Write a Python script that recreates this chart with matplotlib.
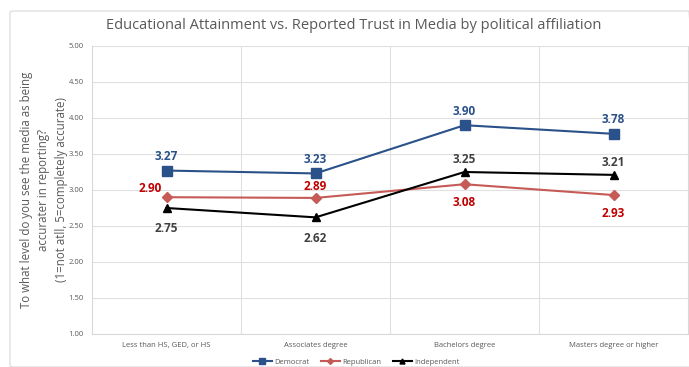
import matplotlib.pyplot as plt
from matplotlib.patches import FancyBboxPatch
import numpy as np

plt.rcParams['font.family'] = ['Open Sans', 'DejaVu Sans']

categories = ['Less than HS, GED, or HS', 'Associates degree',
              'Bachelors degree', 'Masters degree or higher']
democrat = [3.27, 3.23, 3.90, 3.78]
republican = [2.90, 2.89, 3.08, 2.93]
independent = [2.75, 2.62, 3.25, 3.21]

# label placement per point: (dx, dy) in points
dem_off = [(0, 10), (0, 10), (0, 10), (0, 10)]
rep_off = [(-12, 6), (0, 8), (0, -13), (0, -13)]
ind_off = [(0, -15), (0, -15), (0, 9), (0, 9)]

fig = plt.figure(figsize=(6.89, 3.67), dpi=100)
fig.patches.append(FancyBboxPatch((10 / 689, 0.0), 0.99, 0.97,
                                  boxstyle='round,pad=0,rounding_size=0.005',
                                  transform=fig.transFigure, fill=False,
                                  edgecolor='#d9d9d9', linewidth=0.8))
ax = fig.add_axes([92 / 689, 1 - 334 / 367, 596 / 689, (334 - 46) / 367])

x = np.arange(len(categories))
ax.plot(x, democrat, color='#2a5189', marker='s', markersize=7, linewidth=1.5, label='Democrat')
ax.plot(x, republican, color='#c55a57', marker='D', markersize=5, linewidth=1.5, label='Republican')
ax.plot(x, independent, color='black', marker='^', markersize=6, linewidth=1.5, label='Independent')

for i in x:
    ax.annotate(f'{democrat[i]:.2f}', (i, democrat[i]), xytext=dem_off[i], textcoords='offset points',
                ha='center', va='center', color='#2a5189', fontsize=8.5, fontweight='bold')
    ax.annotate(f'{republican[i]:.2f}', (i, republican[i]), xytext=rep_off[i], textcoords='offset points',
                ha='center', va='center', color='#c00000', fontsize=8.5, fontweight='bold')
    ax.annotate(f'{independent[i]:.2f}', (i, independent[i]), xytext=ind_off[i], textcoords='offset points',
                ha='center', va='center', color='#404040', fontsize=8.5, fontweight='bold')

ax.set_xlim(-0.5, 3.5)
ax.set_ylim(1, 5)
ax.set_yticks(np.arange(1, 5.01, 0.5))
ax.set_yticklabels([f'{v:.2f}' for v in np.arange(1, 5.01, 0.5)])
ax.set_xticks(x)
ax.set_xticklabels(categories)
ax.set_xticks([0.5, 1.5, 2.5], minor=True)
ax.grid(True, which='major', axis='y', color='#e0e0e0', linewidth=0.8)
ax.grid(True, which='minor', axis='x', color='#e0e0e0', linewidth=0.8)
ax.tick_params(which='both', length=0, labelsize=5.5, colors='#595959', pad=6)
ax.tick_params(axis='y', pad=6)
ax.spines['top'].set_visible(False)
for s in ['right', 'left', 'bottom']:
    ax.spines[s].set_color('#d9d9d9')
ax.set_axisbelow(True)

ax.set_ylabel('To what level do you see the media as being\naccurater in reporting?\n(1=not atll, 5=completely accurate)',
              fontsize=8.3, color='#595959', linespacing=1.45, va='center')
ax.yaxis.set_label_coords(-0.081, 0.5)
fig.text(0.513, 0.93, 'Educational Attainment vs. Reported Trust in Media by political affiliation',
         ha='center', va='center', fontsize=10.5, color='#595959')

fig.legend(loc='center', bbox_to_anchor=(356 / 689, 1 - 362 / 367), ncol=3, frameon=False,
           fontsize=5.5, labelcolor='#595959', handlelength=2.5, handletextpad=0.3,
           columnspacing=1.5, markerscale=0.6, borderpad=0, borderaxespad=0)

fig.savefig('out.png', dpi=100)
